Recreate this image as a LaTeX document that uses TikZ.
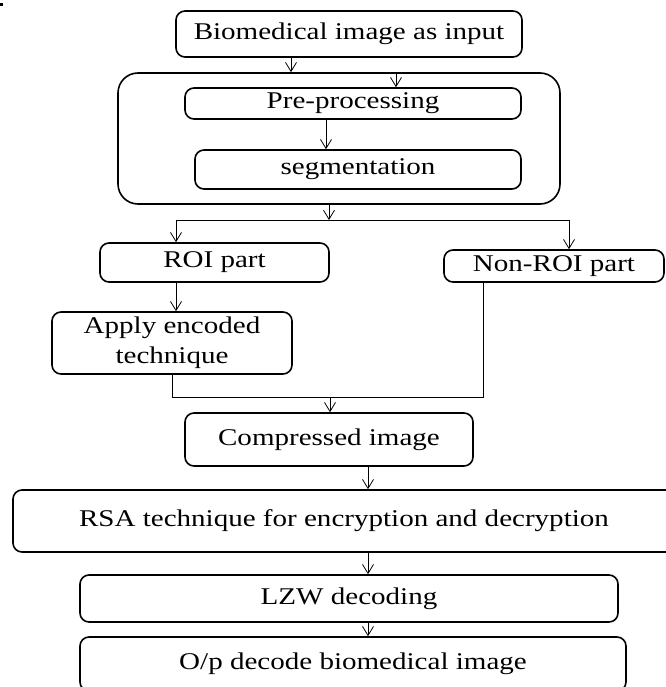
\documentclass[tikz,border=0pt]{standalone}
\usepackage{fontspec}
\setmainfont[FakeStretch=1.21]{Liberation Serif}
\usetikzlibrary{arrows.meta}
\begin{document}
\begin{tikzpicture}[x=1pt,y=-1pt,
  box/.style={draw, line width=1.6pt, rounded corners=9pt, rectangle, inner sep=0pt,
    font=\fontsize{24}{30}\selectfont, align=center},
  grpbox/.style={draw, line width=1.6pt, rounded corners=20pt, rectangle, inner sep=0pt},
  arr/.style={line width=0.8pt, -{Straight Barb[length=9pt,width=11pt,line width=0.8pt]}},
  conn/.style={line width=0.8pt}]
\useasboundingbox (0,0) rectangle (665,687);
\fill (0,3) rectangle (3,6);
% nodes
\node[box, minimum width=346pt, minimum height=46pt] (in) at (349,34) {Biomedical image as input};
\node[grpbox, minimum width=442pt, minimum height=131pt] (grp) at (339,138.5) {};
\node[box, minimum width=336pt, minimum height=31pt] (pre) at (353,103.5) {Pre-processing};
\node[box, minimum width=326pt, minimum height=39pt] (seg) at (358,169.5) {segmentation};
\node[box, minimum width=229pt, minimum height=39pt] (roi) at (214.5,262.5) {ROI part};
\node[box, minimum width=220pt, minimum height=32pt] (nonroi) at (554,266) {Non-ROI part};
\node[box, minimum width=240pt, minimum height=62pt] (apply) at (172,343) {Apply encoded\\technique};
\node[box, minimum width=288pt, minimum height=53pt] (comp) at (329,439.5) {Compressed image};
\node[box, minimum width=662pt, minimum height=62pt] (rsa) at (344,521) {RSA technique for encryption and decryption};
\node[box, minimum width=538pt, minimum height=47pt] (lzw) at (349,598.5) {LZW decoding};
\node[box, minimum width=546pt, minimum height=54pt] (op) at (353,664) {O/p decode biomedical image};
% helper coordinates
\coordinate (xa) at (291,0);
\coordinate (xb) at (396,0);
\coordinate (xc) at (326,0);
\coordinate (xd) at (329,0);
\coordinate (sm) at (329,220);
\coordinate (sl) at (176,220);
\coordinate (sr) at (569,220);
\coordinate (jl) at (172,397);
\coordinate (jr) at (483,397);
\coordinate (jm) at (330,397);
\coordinate (xe) at (368,0);
% connectors
\draw[arr] (in.south -| xa) -- (grp.north -| xa);
\draw[arr] (grp.north -| xb) -- (pre.north -| xb);
\draw[arr] (pre.south -| xc) -- (seg.north -| xc);
\draw[arr] (grp.south -| xd) -- (sm);
\draw[conn] (sl) -- (sr);
\draw[arr] (sl) -- (roi.north -| sl);
\draw[arr] (sr) -- (nonroi.north -| sr);
\draw[arr] (roi.south -| sl) -- (apply.north -| sl);
\draw[conn] (apply.south -| jl) -- (jl) -- (jr) -- (nonroi.south -| jr);
\draw[arr] (jm) -- (comp.north -| jm);
\draw[arr] (comp.south -| xe) -- (rsa.north -| xe);
\draw[arr] (rsa.south -| xe) -- (lzw.north -| xe);
\draw[arr] (lzw.south -| xe) -- (op.north -| xe);
\end{tikzpicture}
\end{document}
